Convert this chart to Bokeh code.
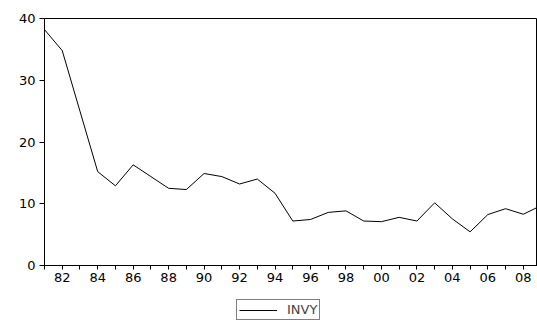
from bokeh.plotting import figure
from bokeh.layouts import column
from bokeh.models import FixedTicker, Legend, LegendItem, Range1d
from bokeh.embed import file_html
from bokeh.resources import INLINE

years = list(range(1981, 2010))
invy = [38.2, 34.8, 25.0, 15.2, 12.9, 16.3, 14.4, 12.5, 12.3, 14.9,
        14.4, 13.2, 14.0, 11.7, 7.2, 7.45, 8.6, 8.85, 7.2, 7.1,
        7.8, 7.2, 10.15, 7.55, 5.45, 8.25, 9.2, 8.3, 9.7]
y_ticks = [0, 10, 20, 30, 40]
series_name = "INVY"

p = figure(width=537, height=288, output_backend="svg", toolbar_location=None,
           x_range=Range1d(1981, 2008.8), y_range=Range1d(0, 40),
           min_border_left=44, min_border_right=0, min_border_top=18, min_border_bottom=23)
p.background_fill_color = "white"
p.border_fill_color = "white"
p.outline_line_color = "black"
p.outline_line_width = 1
p.xgrid.visible = False
p.ygrid.visible = False

p.line(years, invy, line_color="black", line_width=1)

font = "DejaVu Sans"
p.yaxis.ticker = FixedTicker(ticks=y_ticks)
p.xaxis.ticker = FixedTicker(ticks=years)
p.xaxis.major_label_overrides = {y: (f"{y % 100:02d}" if y % 2 == 0 else "") for y in years}
for ax in (p.xaxis[0], p.yaxis[0]):
    ax.axis_line_color = "black"
    ax.major_tick_line_color = "black"
    ax.minor_tick_line_color = None
    ax.major_tick_in = 0
    ax.major_tick_out = 4
    ax.major_label_text_font = font
    ax.major_label_text_font_size = "13px"
    ax.major_label_text_color = "black"
p.yaxis.major_tick_out = 5
p.yaxis.major_label_standoff = 4
p.xaxis.major_label_standoff = 3

# legend strip below the chart (frame aligned with the main chart's frame)
p2 = figure(width=537, height=32, output_backend="svg", toolbar_location=None,
            x_axis_type=None, y_axis_type=None,
            x_range=Range1d(0, 1), y_range=Range1d(0, 1),
            min_border_left=44, min_border_right=0, min_border_top=0, min_border_bottom=0)
p2.outline_line_color = None
p2.xgrid.visible = False
p2.ygrid.visible = False
p2.background_fill_color = "white"
p2.border_fill_color = "white"
# sample line kept outside the visible range so only its legend swatch shows
r2 = p2.line(x=[-3, -2], y=[-3, -2], line_color="black", line_width=1)

legend = Legend(items=[LegendItem(label=series_name, renderers=[r2])],
                location=(192, 0), orientation="horizontal",
                border_line_color="black", border_line_width=1,
                background_fill_color="white", background_fill_alpha=1,
                label_text_font=font, label_text_font_size="13px",
                glyph_width=38, glyph_height=12, label_standoff=10,
                padding=2, margin=0, label_height=12)
p2.add_layout(legend, "center")

layout = column(p, p2, spacing=0)
open("out.html", "w").write(file_html(layout, INLINE))
